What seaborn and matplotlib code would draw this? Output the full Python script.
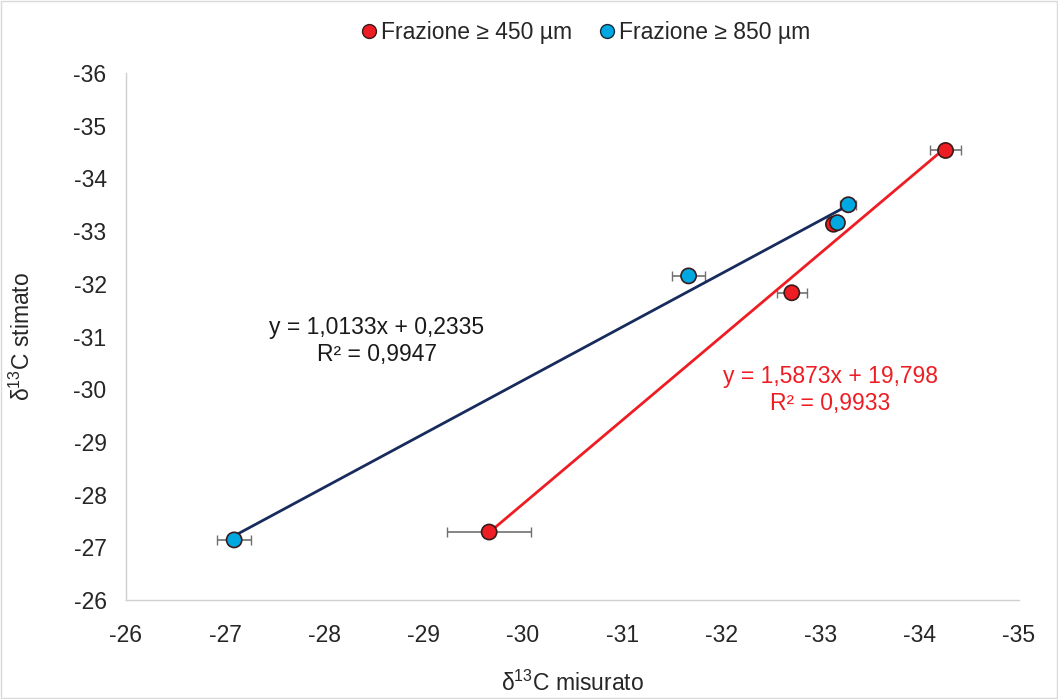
import matplotlib
matplotlib.use("Agg")
import matplotlib.pyplot as plt
import matplotlib.patches as mpatches
import seaborn as sns
import numpy as np
import pandas as pd

# measured vs estimated d13C values
x_450 = [-29.66, -32.71, -33.13, -34.26]
y_450 = [-27.29, -31.83, -33.13, -34.53]
xerr_450 = [0.42, 0.15, 0.05, 0.16]

x_850 = [-27.09, -31.67, -33.17, -33.28]
y_850 = [-27.14, -32.15, -33.16, -33.50]
xerr_850 = [0.17, 0.17, 0.05, 0.08]

# trendline coefficients (slope, intercept) and R2 as shown on the chart
fit_450 = (1.5873, 19.798, 0.9933)
fit_850 = (1.0133, 0.2335, 0.9947)

labels = ["Frazione \u2265 450 \u00b5m", "Frazione \u2265 850 \u00b5m"]
x_ticks = [-26, -27, -28, -29, -30, -31, -32, -33, -34, -35]
y_ticks = [-26, -27, -28, -29, -30, -31, -32, -33, -34, -35, -36]

red = "#ee1d23"
blue = "#00a8e1"
navy = "#172b5c"
fs = 16.5

sns.set_style("white")
plt.rcParams["font.family"] = ["Liberation Sans", "DejaVu Sans"]
plt.rcParams["axes.unicode_minus"] = False
plt.rcParams["mathtext.fontset"] = "custom"
plt.rcParams["mathtext.rm"] = "Liberation Sans"

df = pd.concat([
    pd.DataFrame({"mis": x_450, "sti": y_450, "serie": labels[0]}),
    pd.DataFrame({"mis": x_850, "sti": y_850, "serie": labels[1]}),
])

fig = plt.figure(figsize=(10.58, 6.99), dpi=100)
ax = fig.add_axes([126 / 1058, 1 - 600 / 699, (1019 - 126) / 1058, (600 - 73) / 699])

# trend lines across each series' range
for xs, (m, q, _), col in [(x_450, fit_450, red), (x_850, fit_850, navy)]:
    xl = np.array([min(xs), max(xs)])
    sns.lineplot(x=xl, y=m * xl + q, ax=ax, color=col, lw=2, zorder=2)

# horizontal error bars
ax.errorbar(x_450, y_450, xerr=xerr_450, fmt="none", ecolor="#707070",
            elinewidth=1.2, capsize=3.5, zorder=1)
ax.errorbar(x_850, y_850, xerr=xerr_850, fmt="none", ecolor="#707070",
            elinewidth=1.2, capsize=3.5, zorder=1)

sns.scatterplot(data=df, x="mis", y="sti", hue="serie",
                palette={labels[0]: red, labels[1]: blue},
                s=120, edgecolor="#3a1a1a", linewidth=1.2, ax=ax, zorder=3,
                legend=False)

ax.set_xlim(-26, -35)
ax.set_ylim(-26, -36)
ax.set_xticks(x_ticks)
ax.set_yticks(y_ticks)
ax.tick_params(axis="both", labelsize=fs, length=5, color="#c8c8c8",
               direction="out", width=1)
ax.tick_params(axis="x", pad=12)
ax.tick_params(axis="y", pad=9)
for s in ["top", "right"]:
    ax.spines[s].set_visible(False)
for s in ["left", "bottom"]:
    ax.spines[s].set_color("#cfcfcf")
    ax.spines[s].set_linewidth(1)

ax.set_xlabel("\u03b4$^{\\mathregular{13}}$C misurato", fontsize=fs)
ax.set_ylabel("\u03b4$^{\\mathregular{13}}$C stimato", fontsize=fs)
ax.xaxis.set_label_coords(0.5, -0.135)
ax.yaxis.set_label_coords(-0.102, 0.5)

def eq_text(m, q, r2):
    fm = f"{m:.4f}".replace(".", ",")
    fq = f"{q:g}".replace(".", ",")
    fr = f"{r2:.4f}".replace(".", ",")
    return f"y = {fm}x + {fq}\nR\u00b2 = {fr}"

ax.text(-28.53, -30.92, eq_text(*fit_850), ha="center", va="center",
        fontsize=fs, color="#1a1a1a", linespacing=1.2)
ax.text(-33.1, -29.98, eq_text(*fit_450), ha="center", va="center",
        fontsize=fs, color=red, linespacing=1.2)

handles = [
    plt.Line2D([], [], marker="o", ls="none", markersize=10, markerfacecolor=red,
               markeredgecolor="#3a1a1a", markeredgewidth=1),
    plt.Line2D([], [], marker="o", ls="none", markersize=10, markerfacecolor=blue,
               markeredgecolor="#1a2a3a", markeredgewidth=1),
]
fig.legend(handles, labels, loc="center", bbox_to_anchor=(0.552, 0.953), ncol=2,
           frameon=False, fontsize=fs, handletextpad=0.05, columnspacing=1.0,
           handlelength=1.0)

# light outer border
fig.patches.append(mpatches.Rectangle((0.001, 0.001), 0.998, 0.998,
                                      transform=fig.transFigure, fill=False,
                                      edgecolor="#d9d9d9", lw=1))

fig.savefig("out.png", dpi=100)
